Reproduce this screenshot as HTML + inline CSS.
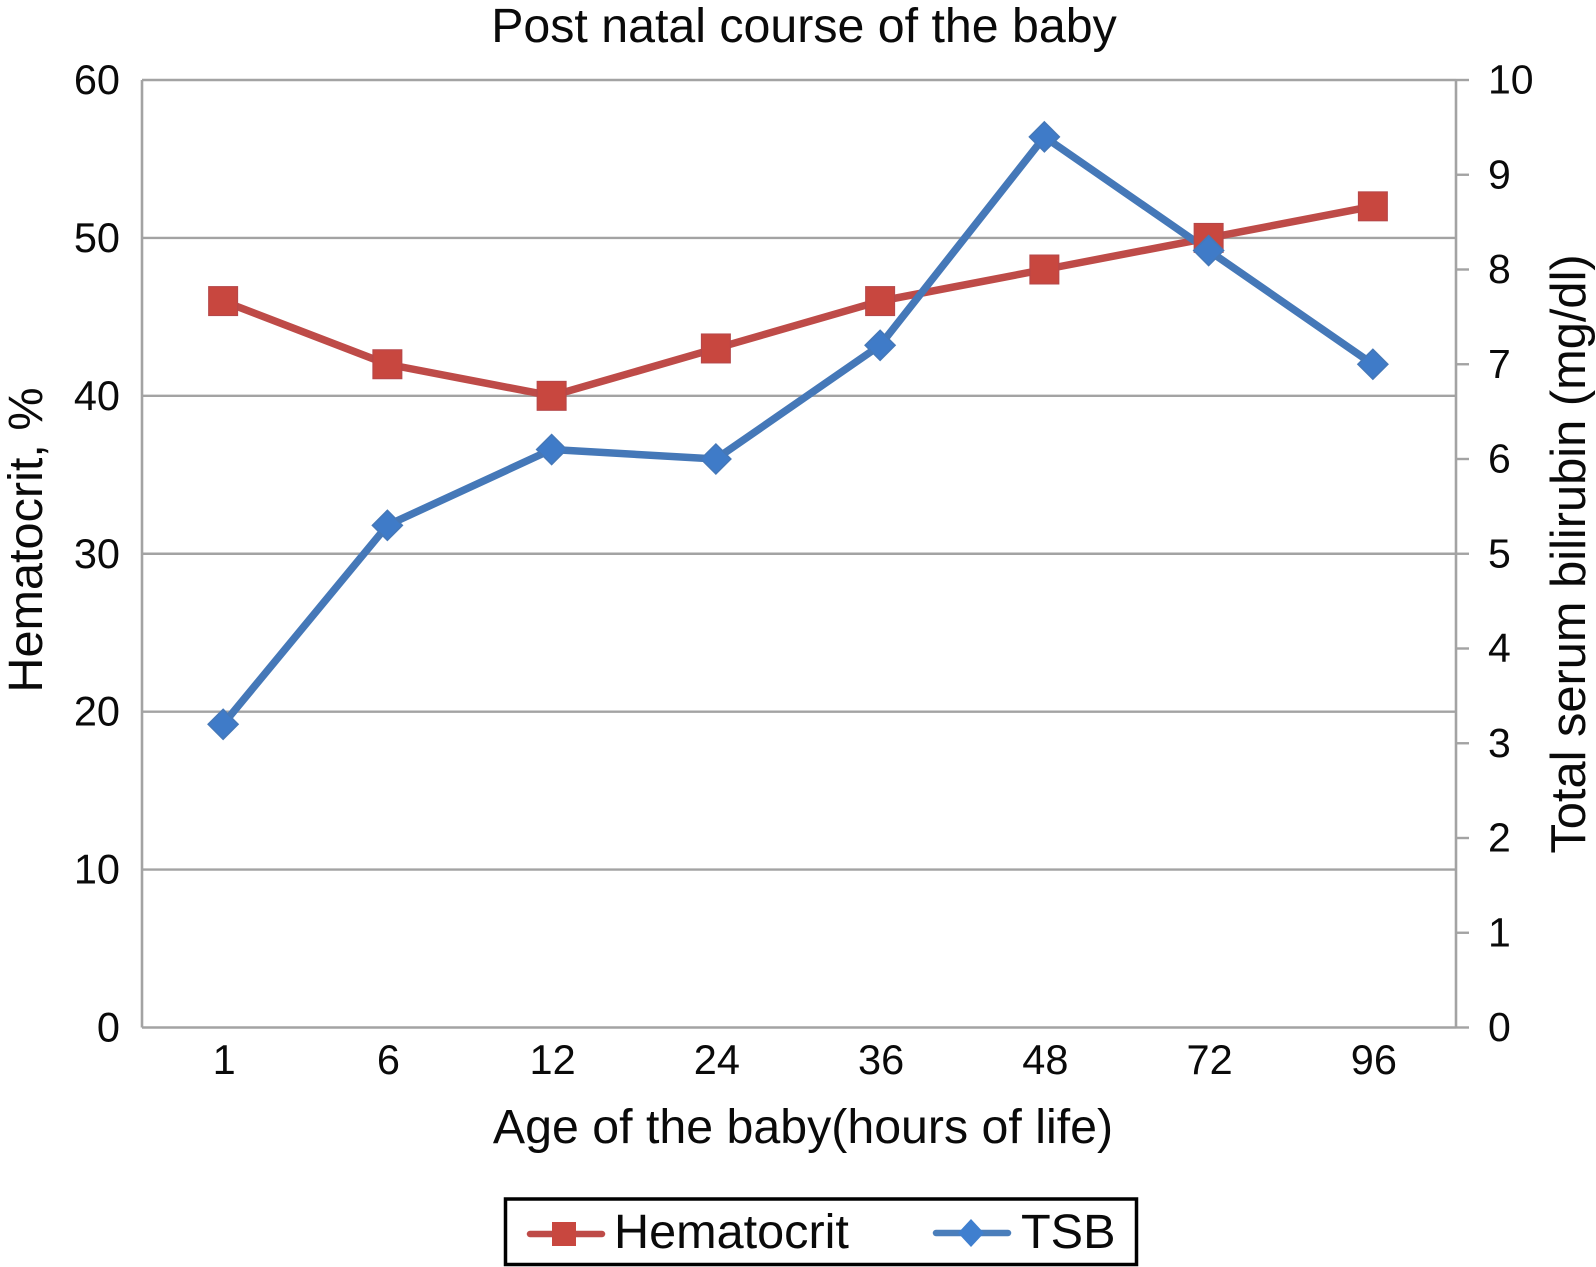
<!DOCTYPE html>
<html>
<head>
<meta charset="utf-8">
<title>Post natal course of the baby</title>
<style>
html,body{margin:0;padding:0;background:#fff;width:1596px;height:1267px;overflow:hidden}
svg{display:block}
text{font-family:"Liberation Sans",sans-serif;fill:#0a0a0a}
</style>
</head>
<body>
<svg id="chart" xmlns="http://www.w3.org/2000/svg" width="1596" height="1267" viewBox="0 0 1596 1267">
  <rect width="1596" height="1267" fill="#fff"/>
  <text x="804" y="42" font-size="48.3" text-anchor="middle">Post natal course of the baby</text>
  <text x="803" y="1143" font-size="48.3" text-anchor="middle">Age of the baby(hours of life)</text>
  <text transform="translate(42 540) rotate(-90)" font-size="48.6" text-anchor="middle">Hematocrit, %</text>
  <text transform="translate(1585 554) rotate(-90)" font-size="48.8" text-anchor="middle">Total serum bilirubin (mg/dl)</text>
  <g id="grid"></g>
  <g id="axes"></g>
  <g id="series"></g>
  <g>
    <rect x="505.5" y="1199" width="631" height="65.5" fill="#fff" stroke="#000" stroke-width="3.5"/>
    <g>
      <line x1="530" y1="1234" x2="602" y2="1234" stroke="#be4b48" stroke-width="6.5" stroke-linecap="round"/>
      <rect x="552" y="1222" width="24" height="24" fill="#c8473f"/>
      <text x="614" y="1248" font-size="48.6">Hematocrit</text>
    </g>
    <g>
      <line x1="936" y1="1233" x2="1008" y2="1233" stroke="#4a7ebb" stroke-width="6.5" stroke-linecap="round"/>
      <polygon points="971,1219 984,1233 971,1247 958,1233" fill="#3f7fcf"/>
      <text x="1021" y="1248" font-size="48.6">TSB</text>
    </g>
  </g>
</svg>
<script>
const categories = ['1', '6', '12', '24', '36', '48', '72', '96'];
const hematocritValues = [46, 42, 40, 43, 46, 48, 50, 52];
const tsbValues = [3.2, 5.3, 6.1, 6.0, 7.2, 9.4, 8.2, 7.0];
const leftTicks = [0, 10, 20, 30, 40, 50, 60];
const rightTicks = [0, 1, 2, 3, 4, 5, 6, 7, 8, 9, 10];

const NS = 'http://www.w3.org/2000/svg';
const plot = { left: 142, right: 1456, top: 80, bottom: 1027.5 };
const axisGray = '#a3a3a3';

function xScale(i) {
  return plot.left - 1 + (plot.right - plot.left) * (i + 0.5) / categories.length;
}
function yLeft(v) {
  return plot.bottom - (plot.bottom - plot.top) * v / 60;
}
function yRight(v) {
  return plot.bottom - (plot.bottom - plot.top) * v / 10;
}
function make(tag, attrs, parent) {
  const el = document.createElementNS(NS, tag);
  for (const k in attrs) el.setAttribute(k, attrs[k]);
  parent.appendChild(el);
  return el;
}

const grid = document.getElementById('grid');
const axes = document.getElementById('axes');
const series = document.getElementById('series');

leftTicks.forEach(function (t) {
  const y = yLeft(t);
  const line = make('line', { x1: plot.left, x2: plot.right, y1: y, y2: y, stroke: axisGray, 'stroke-width': 2.4 }, grid);
  
  
  const label = make('text', { x: 120, y: y + 14, 'font-size': 41.5, 'text-anchor': 'end' }, axes);
  label.textContent = t;
  
  
});

const leftAxis = make('line', { x1: plot.left, x2: plot.left, y1: plot.top, y2: plot.bottom, stroke: axisGray, 'stroke-width': 2.6 }, axes);


const rightAxis = make('line', { x1: plot.right, x2: plot.right, y1: plot.top, y2: plot.bottom, stroke: axisGray, 'stroke-width': 2.6 }, axes);



rightTicks.forEach(function (t) {
  const y = yRight(t);
  const tick = make('line', { x1: plot.right, x2: plot.right + 13, y1: y, y2: y, stroke: axisGray, 'stroke-width': 2.4 }, axes);
  
  
  const label = make('text', { x: 1488, y: y + 13.5, 'font-size': 41 }, axes);
  label.textContent = t;
  
  
});

categories.forEach(function (c, i) {
  const label = make('text', { x: xScale(i) + 1, y: 1074, 'font-size': 41.5, 'text-anchor': 'middle' }, axes);
  label.textContent = c;
  
  
});

const hctLine = make('polyline', {
  points: hematocritValues.map(function (v, i) { return xScale(i) + ',' + yLeft(v); }).join(' '),
  fill: 'none', stroke: '#be4b48', 'stroke-width': 7.5, 'stroke-linejoin': 'round'
}, series);



const tsbLine = make('polyline', {
  points: tsbValues.map(function (v, i) { return xScale(i) + ',' + yRight(v); }).join(' '),
  fill: 'none', stroke: '#4578b8', 'stroke-width': 7.5, 'stroke-linejoin': 'round'
}, series);




hematocritValues.forEach(function (v, i) {
  const s = 29;
  const m = make('rect', { x: xScale(i) - s / 2, y: yLeft(v) - s / 2, width: s, height: s, fill: '#c8473f', stroke: '#b5474a', 'stroke-width': 1 }, series);
  
  
});

tsbValues.forEach(function (v, i) {
  const r = 15;
  const cx = xScale(i);
  const cy = yRight(v);
  const m = make('polygon', {
    points: cx + ',' + (cy - r) + ' ' + (cx + r) + ',' + cy + ' ' + cx + ',' + (cy + r) + ' ' + (cx - r) + ',' + cy,
    fill: '#3f7bc8', stroke: '#4578b8', 'stroke-width': 1.5
  }, series);
  
  
});
</script>
</body>
</html>
